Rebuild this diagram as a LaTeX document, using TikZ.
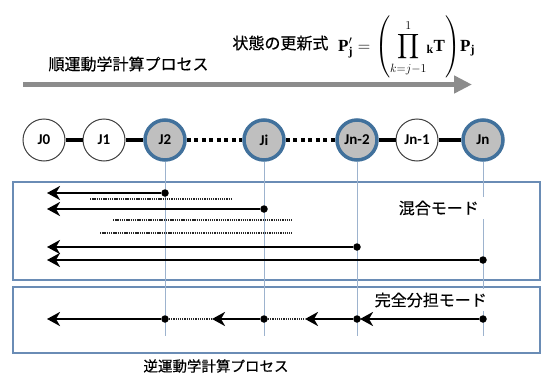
\documentclass[tikz,border=0pt]{standalone}
\usepackage{amsmath}
\usepackage{exscale}
\usepackage{fontspec}
\setmainfont{Liberation Serif}
\newfontfamily\lbl{Carlito}
\newfontfamily\jp[FakeBold=0.4]{Noto Sans CJK JP}
\usetikzlibrary{arrows.meta}
\definecolor{nodeblue}{HTML}{41719C}
\definecolor{nodegray}{HTML}{BFBFBF}
\definecolor{boxblue}{HTML}{6A8CB5}
\definecolor{vlinec}{HTML}{9DB3CE}
\definecolor{barc}{HTML}{8C8C8C}
\tikzset{
  joint/.style={circle, minimum size=42pt, inner sep=0pt, draw=black!75, line width=1pt, fill=white,
    font=\lbl\fontsize{15}{15}\selectfont\bfseries},
  keyjoint/.style={joint, fill=nodegray, draw=nodeblue, line width=3.5pt, minimum size=40pt},
  link/.style={line width=4pt, black},
  dlink/.style={line width=4pt, black, dash pattern=on 4pt off 3.5pt},
  vguide/.style={vlinec, line width=0.8pt},
  boxc/.style={boxblue, line width=1.4pt},
  arr/.style={line width=2.5pt, -{Stealth[length=13pt,width=14pt,inset=4pt]}},
  fine/.style={line width=1.3pt, black!85, dash pattern=on 1.3pt off 0.9pt},
  dot/.style={circle, fill=black, inner sep=0pt, minimum size=7.5pt},
  jtext/.style={font=\jp\fontsize{16}{16}\selectfont},
  modetext/.style={jtext, fill=white, inner xsep=9pt, inner ysep=4pt}
}
\begin{document}
\begin{tikzpicture}[x=1pt, y=-1pt]
\useasboundingbox (0,0) rectangle (542,383);

% top process arrow and titles
\node[jtext, anchor=west] (fwd) at (45,64) {順運動学計算プロセス};
\coordinate (g1) at (23,84.5);
\coordinate (g2) at (472,84.5);
\draw[barc, line width=5pt, -{Triangle[length=18pt,width=17pt]}] (g1) -- (g2);
\node[jtext, anchor=east] (upd) at (332,43) {状態の更新式};
\node[anchor=west, inner sep=0pt] (eq) at (338,47)
  {\fontsize{17}{20}\selectfont$\displaystyle \mathbf{P}_{\mathbf{j}}^{\prime}=\left(\prod_{k=j-1}^{1}\!{}_{\mathbf{k}}\mathbf{T}\right)\!\mathbf{P}_{\mathbf{j}}$};

% joints
\node[joint] (J0) at (44,140) {J0};
\node[joint] (J1) at (104,140) {J1};
\node[keyjoint] (J2) at (165,140) {J2};
\node[keyjoint] (Ji) at (264,140) {Ji};
\node[keyjoint] (Jn2) at (357,140) {Jn-2};
\node[joint] (Jn1) at (417,140) {Jn-1};
\node[keyjoint] (Jn) at (483,140) {Jn};
\draw[link] (J0) -- (J1);
\draw[link] (J1) -- (J2);
\draw[dlink] (J2) -- (Ji);
\draw[dlink] (Ji) -- (Jn2);
\draw[link] (Jn2) -- (Jn1);
\draw[link] (Jn1) -- (Jn);

% boxes
\draw[boxc] (13,182) rectangle (540,280);
\draw[boxc] (13,287) rectangle (540,353);

% guide lines
\coordinate (vend) at (0,336);
\draw[vguide] (J2.south) -- (J2 |- vend);
\draw[vguide] (Ji.south) -- (Ji |- vend);
\draw[vguide] (Jn2.south) -- (Jn2 |- vend);
\draw[vguide] (Jn.south) -- (Jn |- vend);

% mode labels
\node[modetext, anchor=east] (mix) at (488,208) {混合モード};
\node[modetext, anchor=east] (full) at (496,300) {完全分担モード};

% mixed mode
\node[dot] (m1) at (165,193) {};
\coordinate (m1t) at (47,193);
\draw[arr] (m1) -- (m1t);
\coordinate (f1a) at (90,199); \coordinate (f1b) at (232,199);
\draw[fine] (f1a) -- (f1b);
\node[dot] (m2) at (264,209) {};
\coordinate (m2t) at (47,209);
\draw[arr] (m2) -- (m2t);
\coordinate (f2a) at (113,220); \coordinate (f2b) at (292,220);
\draw[fine] (f2a) -- (f2b);
\coordinate (f3a) at (100,233); \coordinate (f3b) at (292,233);
\draw[fine] (f3a) -- (f3b);
\node[dot] (m3) at (357,247) {};
\coordinate (m3t) at (47,247);
\draw[arr] (m3) -- (m3t);
\node[dot] (m4) at (483,260) {};
\coordinate (m4t) at (47,260);
\draw[arr] (m4) -- (m4t);

% full distributed mode
\node[dot] (s1) at (165,319) {};
\node[dot] (s2) at (264,319) {};
\node[dot] (s3) at (357,319) {};
\node[dot] (s4) at (483,319) {};
\coordinate (s1t) at (47,319);
\coordinate (s2t) at (212,319);
\coordinate (s3t) at (305,319);
\coordinate (s4t) at (360,319);
\draw[arr] (s1) -- (s1t);
\draw[fine] (s1) -- (s2t);
\draw[arr] (s2) -- (s2t);
\draw[fine] (s2) -- (s3t);
\draw[arr] (s3) -- (s3t);
\draw[arr] (s4) -- (s4t);

% bottom title
\node[jtext, font=\jp\fontsize{14.5}{15}\selectfont] (inv) at (216,366) {逆運動学計算プロセス};
\end{tikzpicture}
\end{document}
